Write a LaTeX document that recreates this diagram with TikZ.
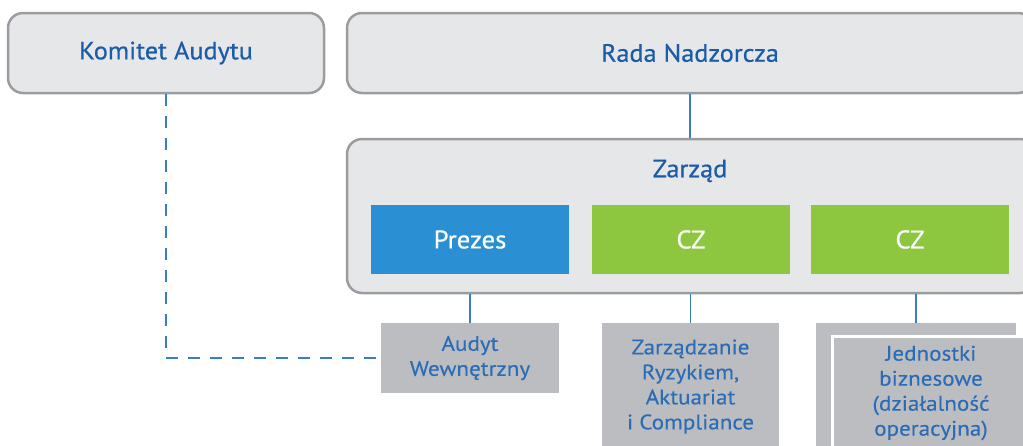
\documentclass[tikz,border=0pt]{standalone}
\usepackage{fontspec}
\setmainfont{PT Sans}
\newfontfamily\headfont{PT Sans}[FakeStretch=1.05, FakeBold=0.6]
\newfontfamily\unitfont{PT Sans}[FakeStretch=1.1, FakeBold=0.2]
\definecolor{boxfill}{HTML}{E6E7E9}
\definecolor{boxline}{HTML}{9B9C9F}
\definecolor{navytext}{HTML}{1A5CA8}
\definecolor{unittext}{HTML}{2A6CB5}
\definecolor{presblue}{HTML}{2A90D3}
\definecolor{czgreen}{HTML}{8DC63F}
\definecolor{unitgray}{HTML}{BCBDC0}
\definecolor{wire}{HTML}{3B7EC0}
\tikzset{
  bodybox/.style={draw=boxline, line width=2.5pt, fill=boxfill, rounded corners=15pt,
    minimum height=80pt, inner sep=0pt, text=navytext, font=\headfont\fontsize{25}{28}\selectfont},
  memberbox/.style={draw=none, minimum width=198pt, minimum height=69pt, inner sep=0pt,
    text=white, font=\headfont\fontsize{25.5}{28}\selectfont},
  unitbox/.style={draw=none, fill=unitgray, inner sep=0pt, text=unittext, align=center,
    font=\unitfont\fontsize{21}{25}\selectfont},
  wireline/.style={draw=wire, line width=1.5pt},
  dottedwire/.style={draw=wire, line width=1.5pt, dash pattern=on 12pt off 10pt}
}
\begin{document}
\begin{tikzpicture}[x=1pt,y=-1pt]
\clip (0,0) rectangle (1023,445);
\fill[white] (0,0) rectangle (1023,445);

% governing bodies
\node[bodybox, minimum width=316pt] (komitet) at (166,53) {Komitet Audytu};
\node[bodybox, minimum width=686pt] (rada) at (690,53) {Rada Nadzorcza};

% management board frame and its members
\node[bodybox, minimum width=688pt, minimum height=154pt] (zarzad) at (691,216) {};
\node[text=navytext, font=\headfont\fontsize{25}{28}\selectfont] (zarzadlabel) at (690,171) {Zarząd};
\node[memberbox, fill=presblue] (prezes) at (470,239.5) {Prezes};
\node[memberbox, fill=czgreen] (cz1) at (691,239.5) {CZ};
\node[memberbox, fill=czgreen] (cz2) at (910,239.5) {CZ};

% reporting units
\node[unitbox, minimum width=178pt, minimum height=70pt] (audyt) at (470,358) {Audyt\\Wewnętrzny};
\node[unitbox, minimum width=177pt, minimum height=127pt] (ryzyko) at (690.5,386.5)
  {Zarządzanie\\Ryzykiem,\\Aktuariat\\i Compliance};
\node[unitbox, minimum width=200pt, minimum height=127pt] (jback) at (916,386.5) {};
\node[unitbox, draw=white, line width=3pt, minimum width=198pt, minimum height=114pt] (jfront) at (931,393)
  {Jednostki\\biznesowe\\(działalność\\operacyjna)};

% connectors
\draw[wireline] (rada.south) -- (rada.south |- zarzad.north);
\draw[wireline] (audyt.north) -- (audyt.north |- zarzad.south);
\draw[wireline] (ryzyko.north) -- (ryzyko.north |- zarzad.south);
\draw[wireline] (jback.north) -- (jback.north |- zarzad.south);
\draw[dottedwire] (komitet.south) |- (audyt.west);
\end{tikzpicture}
\end{document}
